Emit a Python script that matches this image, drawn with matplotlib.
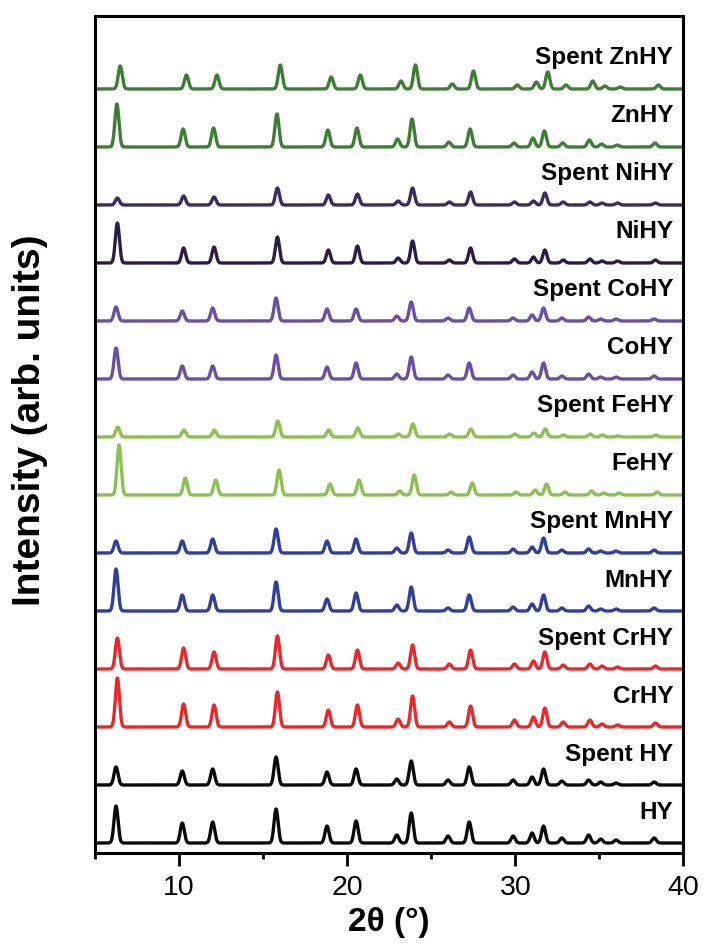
import numpy as np
import matplotlib
matplotlib.use("Agg")
import matplotlib.pyplot as plt
from matplotlib.ticker import MultipleLocator

# samples listed bottom to top
samples = ["HY", "Spent HY", "CrHY", "Spent CrHY", "MnHY", "Spent MnHY",
           "FeHY", "Spent FeHY", "CoHY", "Spent CoHY", "NiHY", "Spent NiHY",
           "ZnHY", "Spent ZnHY"]

colors = ["#0a0a0a", "#0a0a0a", "#e8282b", "#e8282b", "#2f3f9a", "#2f3f9a",
          "#8cc152", "#8cc152", "#6b4fa0", "#6b4fa0", "#2b1d45", "#3a2c5e",
          "#3e7d35", "#3e7d35"]

# reflection positions (2theta, degrees)
peaks = [6.25, 10.19, 12.0, 15.77, 18.8, 20.53, 22.95, 23.81, 26.0, 27.26,
         29.87, 31.0, 31.68, 32.77, 34.36, 35.08, 36.0, 38.26]

# small peak shift of each sample against HY
shifts = [0.0, 0.0, 0.08, 0.08, 0.0, 0.0, 0.18, 0.1, 0.0, 0.0, 0.08, 0.08,
          0.05, 0.25]

# peak heights (arb. units) per sample, same order as peaks
hy = [37, 20, 21, 34, 17, 22, 8, 30, 7, 21, 7, 10, 17, 5, 8, 4, 3, 5]
spent_hy = [18, 14, 16, 28, 13, 16, 6, 24, 5, 18, 5, 8, 16, 4, 5, 3, 2, 3]
crhy = [49, 23, 22, 35, 17, 22, 8, 31, 5, 21, 7, 10, 19, 5, 7, 3, 2, 4]
spent_crhy = [31, 21, 17, 33, 14, 19, 6, 24, 5, 19, 5, 8, 17, 4, 5, 3, 2, 3]
mnhy = [42, 16, 16, 29, 12, 18, 6, 24, 3, 16, 4, 7, 16, 3, 5, 2, 2, 3]
spent_mnhy = [12, 12, 14, 24, 12, 14, 5, 20, 3, 16, 4, 6, 15, 3, 4, 2, 2, 3]
fehy = [50, 17, 15, 25, 11, 15, 4, 20, 3, 12, 3, 5, 11, 3, 4, 2, 2, 3]
spent_fehy = [10, 7, 7, 16, 7, 9, 3, 13, 3, 8, 3, 4, 8, 2, 3, 2, 1, 2]
cohy = [31, 13, 13, 24, 12, 16, 5, 22, 4, 16, 4, 7, 16, 3, 5, 2, 2, 3]
spent_cohy = [14, 10, 13, 23, 12, 12, 5, 19, 3, 13, 3, 6, 13, 3, 4, 2, 2, 2]
nihy = [40, 15, 16, 26, 13, 17, 5, 22, 3, 15, 4, 6, 13, 3, 4, 2, 2, 3]
spent_nihy = [7, 9, 8, 17, 10, 11, 4, 17, 3, 13, 3, 4, 12, 3, 3, 2, 2, 2]
znhy = [43, 18, 19, 33, 17, 19, 8, 28, 5, 18, 4, 9, 16, 4, 7, 3, 2, 4]
spent_znhy = [23, 14, 14, 24, 12, 14, 8, 24, 5, 18, 4, 7, 17, 4, 8, 3, 2, 4]

heights = [hy, spent_hy, crhy, spent_crhy, mnhy, spent_mnhy, fehy,
           spent_fehy, cohy, spent_cohy, nihy, spent_nihy, znhy, spent_znhy]

spacing = 58
width = 0.12


def pattern(x, h, shift):
    """Build a pattern from peak positions and heights."""
    y = np.zeros_like(x)
    for p, a in zip(peaks, h):
        y += a * np.exp(-0.5 * ((x - p - shift) / width) ** 2)
    return y


def main() -> None:
    plt.rcParams["font.family"] = ["Liberation Sans", "DejaVu Sans"]

    fig = plt.figure(figsize=(7.06, 9.46), dpi=100)
    ax = fig.add_axes([0.1346, 0.0983, 0.8334, 0.8848])

    x = np.linspace(5, 40, 3501)
    for i, name in enumerate(samples):
        base = i * spacing
        ax.plot(x, base + pattern(x, heights[i], shifts[i]),
                color=colors[i], lw=2.4)
        ax.text(39.4, base + 31, name, ha="right", va="center",
                fontsize=17.5, fontweight="bold")

    ax.set_xlim(5, 40)
    ax.set_ylim(-10, 827)
    ax.xaxis.set_major_locator(MultipleLocator(10))
    ax.xaxis.set_minor_locator(MultipleLocator(5))
    ax.set_yticks([])
    ax.tick_params(axis="x", which="major", direction="out", length=9,
                   width=2, labelsize=20.5, pad=7)
    ax.tick_params(axis="x", which="minor", direction="out", length=4,
                   width=2)
    for s in ax.spines.values():
        s.set_linewidth(2.2)

    ax.set_xlabel("2θ (°)", fontsize=24, fontweight="bold")
    ax.xaxis.label.set_verticalalignment("center")
    ax.xaxis.set_label_coords(0.5, -0.083)
    ax.set_ylabel("Intensity (arb. units)", fontsize=28, fontweight="bold")
    ax.yaxis.label.set_verticalalignment("center")
    ax.yaxis.set_label_coords(-0.11, 0.517)

    fig.savefig("out.png", dpi=100)


if __name__ == "__main__":
    main()
